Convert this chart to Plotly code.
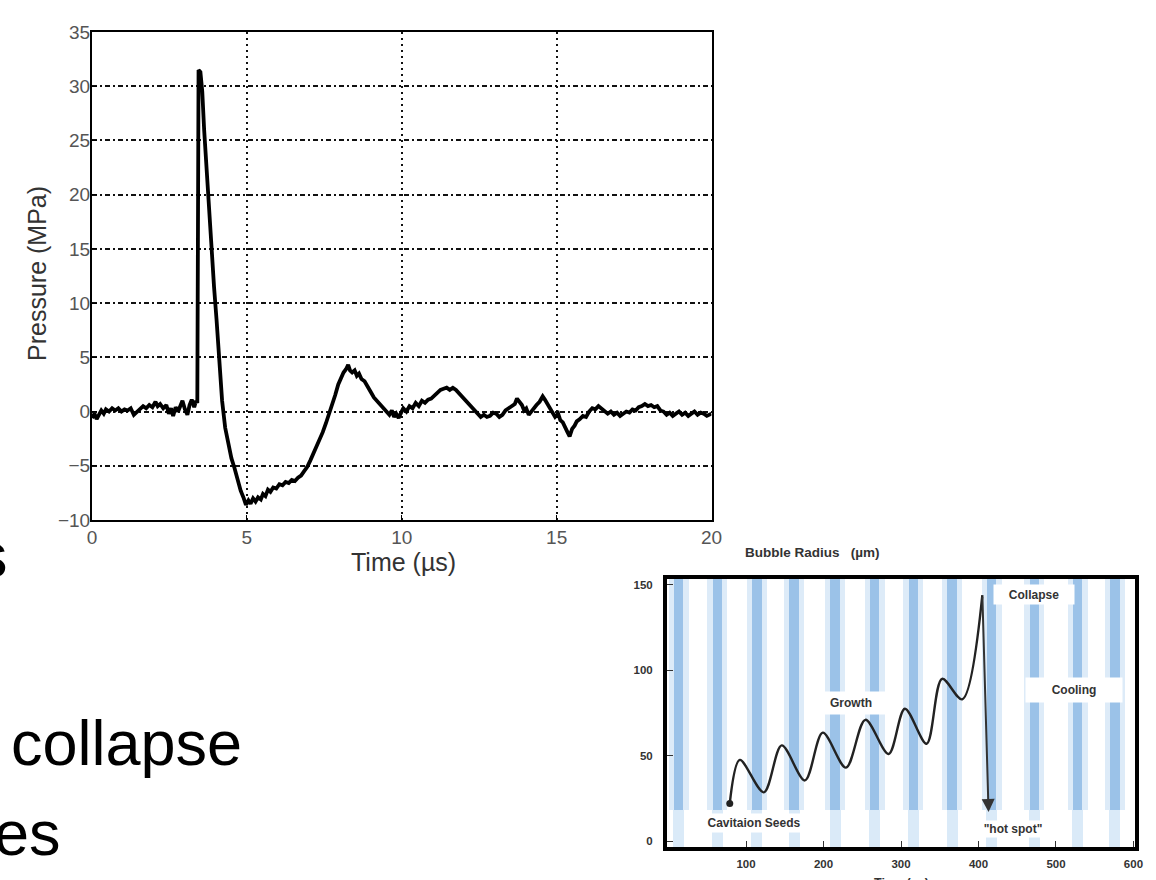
import plotly.graph_objects as go

W, H = 1156, 880

# ---------------- top chart: pressure trace ----------------
time_us = [0.00, 0.08, 0.15, 0.22, 0.30, 0.38, 0.45, 0.55, 0.65, 0.75, 0.85, 0.95, 1.05, 1.15, 1.25,
           1.35, 1.45, 1.55, 1.65, 1.75, 1.85, 1.95, 2.05, 2.12, 2.20, 2.30, 2.40, 2.48, 2.55, 2.62,
           2.70, 2.78, 2.85, 2.92, 3.00, 3.08, 3.15, 3.22, 3.30, 3.36, 3.40, 3.42, 3.44, 3.50, 3.56,
           3.62, 3.70, 3.78, 3.86, 3.94, 4.02, 4.10, 4.20, 4.30, 4.40, 4.50, 4.60, 4.70, 4.80, 4.90,
           4.97, 5.05, 5.12, 5.20, 5.28, 5.36, 5.45, 5.52, 5.60, 5.68, 5.76, 5.85, 5.95, 6.05, 6.15,
           6.25, 6.35, 6.45, 6.55, 6.65, 6.75, 6.85, 6.95, 7.05, 7.15, 7.25, 7.35, 7.45, 7.55, 7.65,
           7.75, 7.85, 7.95, 8.05, 8.12, 8.20, 8.27, 8.33, 8.40, 8.48, 8.55, 8.62, 8.70, 8.80, 8.90,
           9.00, 9.10, 9.20, 9.30, 9.40, 9.50, 9.60, 9.68, 9.75, 9.82, 9.90, 9.98, 10.05, 10.15, 10.25,
           10.35, 10.45, 10.55, 10.65, 10.75, 10.85, 10.95, 11.05, 11.15, 11.25, 11.35, 11.45, 11.55,
           11.65, 11.75, 11.85, 11.95, 12.05, 12.15, 12.25, 12.35, 12.45, 12.55, 12.65, 12.75, 12.85,
           12.95, 13.05, 13.15, 13.25, 13.35, 13.45, 13.55, 13.65, 13.72, 13.80, 13.88, 13.95, 14.02,
           14.10, 14.18, 14.25, 14.35, 14.45, 14.55, 14.62, 14.70, 14.78, 14.85, 14.95, 15.05, 15.12,
           15.20, 15.28, 15.35, 15.42, 15.50, 15.58, 15.65, 15.75, 15.85, 15.95, 16.05, 16.15, 16.25,
           16.35, 16.45, 16.55, 16.65, 16.75, 16.85, 16.95, 17.05, 17.15, 17.25, 17.35, 17.45, 17.55,
           17.65, 17.75, 17.85, 17.95, 18.05, 18.15, 18.25, 18.35, 18.45, 18.55, 18.65, 18.75, 18.85,
           18.95, 19.05, 19.15, 19.25, 19.35, 19.45, 19.55, 19.65, 19.75, 19.85, 20.00]
pressure_mpa = [-0.6, -0.2, -0.7, -0.3, 0.1, -0.2, 0.2, 0.0, 0.3, 0.1, 0.3, 0.0, 0.2, 0.1, 0.3,
                -0.3, 0.0, 0.2, 0.5, 0.3, 0.6, 0.4, 0.9, 0.5, 0.7, 0.3, 0.6, -0.2, 0.3, -0.4,
                0.4, 0.0, 0.5, 1.0, 0.2, -0.3, 0.6, 1.1, 0.4, 1.0, 0.8, 10.0, 31.5, 31.3, 29.5,
                26.0, 22.0, 18.0, 15.0, 11.5, 8.5, 5.0, 1.0, -1.5, -3.0, -4.3, -5.2, -6.3, -7.3, -8.0,
                -8.6, -8.2, -8.5, -8.0, -8.3, -7.9, -8.1, -7.6, -7.8, -7.2, -7.4, -7.0, -7.1, -6.7, -6.8,
                -6.5, -6.6, -6.3, -6.4, -6.1, -5.9, -5.5, -5.1, -4.5, -3.9, -3.2, -2.6, -1.9, -1.1, -0.3,
                0.6, 1.5, 2.5, 3.2, 3.6, 3.9, 4.3, 3.8, 3.6, 3.8, 3.3, 3.5, 3.0, 2.8, 2.2,
                1.8, 1.3, 1.0, 0.7, 0.4, 0.1, -0.3, 0.1, -0.5, -0.2, -0.6, -0.1, 0.3, 0.0, 0.5,
                0.3, 0.8, 0.5, 1.0, 0.8, 1.1, 1.2, 1.5, 1.7, 2.0, 2.1, 2.2, 2.0,
                2.2, 2.0, 1.7, 1.4, 1.1, 0.7, 0.4, 0.1, -0.2, -0.5, -0.3, -0.5, -0.4,
                -0.1, -0.2, -0.5, -0.3, 0.1, 0.3, 0.5, 0.7, 1.2, 0.9, 0.6, 0.1, 0.3,
                -0.3, 0.0, 0.3, 0.6, 0.9, 1.4, 1.1, 0.7, 0.2, -0.1, -0.5, -0.2, -0.8,
                -1.0, -1.4, -1.9, -2.3, -1.6, -1.3, -0.9, -0.7, -0.4, -0.5, 0.0, 0.3, 0.2,
                0.5, 0.3, 0.1, -0.2, 0.0, -0.3, -0.1, -0.4, -0.2, 0.0, -0.1, 0.2, 0.1,
                0.4, 0.5, 0.7, 0.5, 0.6, 0.4, 0.5, 0.1, 0.0, -0.3, -0.1, -0.4, -0.2,
                0.0, -0.3, -0.1, -0.4, -0.2, 0.0, -0.3, -0.1, -0.2, -0.4, -0.2]
time_ticks = [0, 5, 10, 15, 20]
pressure_ticks = [-10, -5, 0, 5, 10, 15, 20, 25, 30, 35]

# ---------------- bottom chart: bubble radius ----------------
bubble_time = [79, 92, 123, 146, 176, 199, 229, 254, 284, 305, 333, 353, 379, 405]
bubble_radius = [22, 47.5, 28.5, 56, 35.5, 63.5, 43, 71, 51, 77.5, 57, 95, 83, 144]
hot_spot = (413, 17)
stripe_centers = [13, 63, 114, 162, 215, 266, 316, 366, 417, 472, 528, 576]
bubble_xticks = [100, 200, 300, 400, 500, 600]
bubble_yticks = [0, 50, 100, 150]
phase_labels = ["Collapse", "Growth", "Cooling", "Cavitaion Seeds", "\"hot spot\""]
phase_x = [472, 235, 523, 110, 444]
phase_y = [144.5, 81, 88.5, 10.5, 7]

FONT = "Liberation Sans, Arial, sans-serif"


def px_x(p):
    return p / W


def px_y(p):
    return 1 - p / H


fig = go.Figure()

fig.add_trace(go.Scatter(x=time_us, y=pressure_mpa, mode="lines",
                         line=dict(color="black", width=3.8),
                         xaxis="x", yaxis="y", hoverinfo="skip", showlegend=False))

# stripes (background of scanned figure)
Y2_LO, Y2_HI, Y2_SPLIT = -3.5, 153.5, 18
n = len(stripe_centers)
fig.add_trace(go.Bar(x=stripe_centers, y=[Y2_HI - Y2_SPLIT] * n, base=[Y2_SPLIT] * n, width=26,
                     marker=dict(color="rgba(170,205,238,0.40)", line=dict(width=0)),
                     xaxis="x2", yaxis="y2", hoverinfo="skip", showlegend=False))
fig.add_trace(go.Bar(x=stripe_centers, y=[Y2_HI - Y2_SPLIT] * n, base=[Y2_SPLIT] * n, width=12,
                     marker=dict(color="rgba(100,160,218,0.55)", line=dict(width=0)),
                     xaxis="x2", yaxis="y2", hoverinfo="skip", showlegend=False))
fig.add_trace(go.Bar(x=stripe_centers, y=[Y2_SPLIT - Y2_LO] * n, base=[Y2_LO] * n, width=14,
                     marker=dict(color="rgba(150,195,235,0.35)", line=dict(width=0)),
                     xaxis="x2", yaxis="y2", hoverinfo="skip", showlegend=False))

fig.add_trace(go.Scatter(x=bubble_time, y=bubble_radius, mode="lines",
                         line=dict(color="#222", width=2.4, shape="spline", smoothing=0.9),
                         xaxis="x2", yaxis="y2", hoverinfo="skip", showlegend=False))
fig.add_trace(go.Scatter(x=[bubble_time[0]], y=[bubble_radius[0]], mode="markers",
                         marker=dict(color="#222", size=7),
                         xaxis="x2", yaxis="y2", hoverinfo="skip", showlegend=False))

tick_font = dict(family=FONT, size=19, color="#555")
small_font = dict(family=FONT, size=11.5, color="#333", weight="bold")

fig.update_layout(
    template="none",
    width=W, height=H,
    margin=dict(l=0, r=0, t=0, b=0, pad=0, autoexpand=False),
    paper_bgcolor="white", plot_bgcolor="white",
    barmode="overlay", bargap=0,
    showlegend=False,
    xaxis=dict(domain=[px_x(92), px_x(711.5)], anchor="y", range=[0, 20], automargin=False,
               tickmode="array", tickvals=time_ticks,
               showgrid=True, griddash="2px,4px", gridcolor="#111", gridwidth=1.6,
               showline=True, linecolor="black", linewidth=2, mirror=True,
               ticks="inside", ticklen=5, tickcolor="black", tickfont=tick_font,
               ticklabelstandoff=-1, zeroline=False, fixedrange=True),
    yaxis=dict(domain=[px_y(520), px_y(32)], anchor="x", range=[-10, 35], automargin=False,
               tickmode="array", tickvals=pressure_ticks,
               showgrid=True, griddash="5px,3px,2px,3px", gridcolor="#111", gridwidth=1.5,
               showline=True, linecolor="black", linewidth=2, mirror=True,
               ticks="inside", ticklen=5, tickcolor="black", tickfont=tick_font,
               ticklabelstandoff=-4, zeroline=False, fixedrange=True),
    xaxis2=dict(domain=[px_x(667), px_x(1135)], anchor="y2", range=[-2, 602], automargin=False,
                tickmode="array", tickvals=bubble_xticks,
                showgrid=False, zeroline=False,
                showline=True, linecolor="black", linewidth=4, mirror=True,
                ticks="inside", ticklen=6, tickcolor="#333", tickfont=small_font,
                ticklabelstandoff=3, fixedrange=True),
    yaxis2=dict(domain=[px_y(847), px_y(579)], anchor="x2", range=[Y2_LO, Y2_HI], automargin=False,
                tickmode="array", tickvals=bubble_yticks,
                showgrid=False, zeroline=False,
                showline=True, linecolor="black", linewidth=4, mirror=True,
                ticks="inside", ticklen=6, tickcolor="#333", tickfont=small_font,
                ticklabelstandoff=8, fixedrange=True),
)

ann = []


def text_at(text, x, y, font, **kw):
    d = dict(text=text, x=px_x(x), y=px_y(y), xref="paper", yref="paper",
             xanchor="center", yanchor="middle", showarrow=False, font=font)
    d.update(kw)
    ann.append(d)


# axis titles of the top chart
text_at("Time (µs)", 403, 562, dict(family=FONT, size=25, color="#333"))
text_at("Pressure (MPa)", 37, 274, dict(family=FONT, size=25, color="#333"), textangle=-90)
# bottom chart title and clipped x title
text_at("Bubble Radius&nbsp;&nbsp;&nbsp;(µm)", 813, 552,
        dict(family=FONT, size=13.5, color="#333", weight="bold"))
text_at("Time (µs)", 901, 883, dict(family=FONT, size=12.5, color="#333", weight="bold"))
# phase labels with white boxes
box_sizes = [(80, 19), (70, 22), (96, 24), (104, 18), (70, 16)]
for lab, lx, ly, (bw, bh) in zip(phase_labels, phase_x, phase_y, box_sizes):
    ann.append(dict(text=lab, x=lx, y=ly, xref="x2", yref="y2", showarrow=False,
                    xanchor="center", yanchor="middle",
                    bgcolor="white", width=bw, height=bh, borderpad=0,
                    font=dict(family=FONT, size=12, color="#333", weight="bold")))
# collapse arrow
ann.append(dict(text="", x=hot_spot[0], y=hot_spot[1], ax=bubble_time[-1], ay=bubble_radius[-1],
                xref="x2", yref="y2", axref="x2", ayref="y2", showarrow=True,
                arrowhead=2, arrowsize=1.3, arrowwidth=2, arrowcolor="#333"))
# slide text behind the charts
slide_font = dict(family=FONT, size=63, color="black")
text_at("collapse", 9, 743, slide_font, xanchor="left")
text_at("es", 63, 833, slide_font, xanchor="right")
text_at("s", 10, 555, slide_font, xanchor="right")

fig.update_layout(annotations=ann)

fig.write_html("out.html", config={"displayModeBar": False},
               post_script="document.body.style.margin='0';document.body.style.overflow='hidden';")
